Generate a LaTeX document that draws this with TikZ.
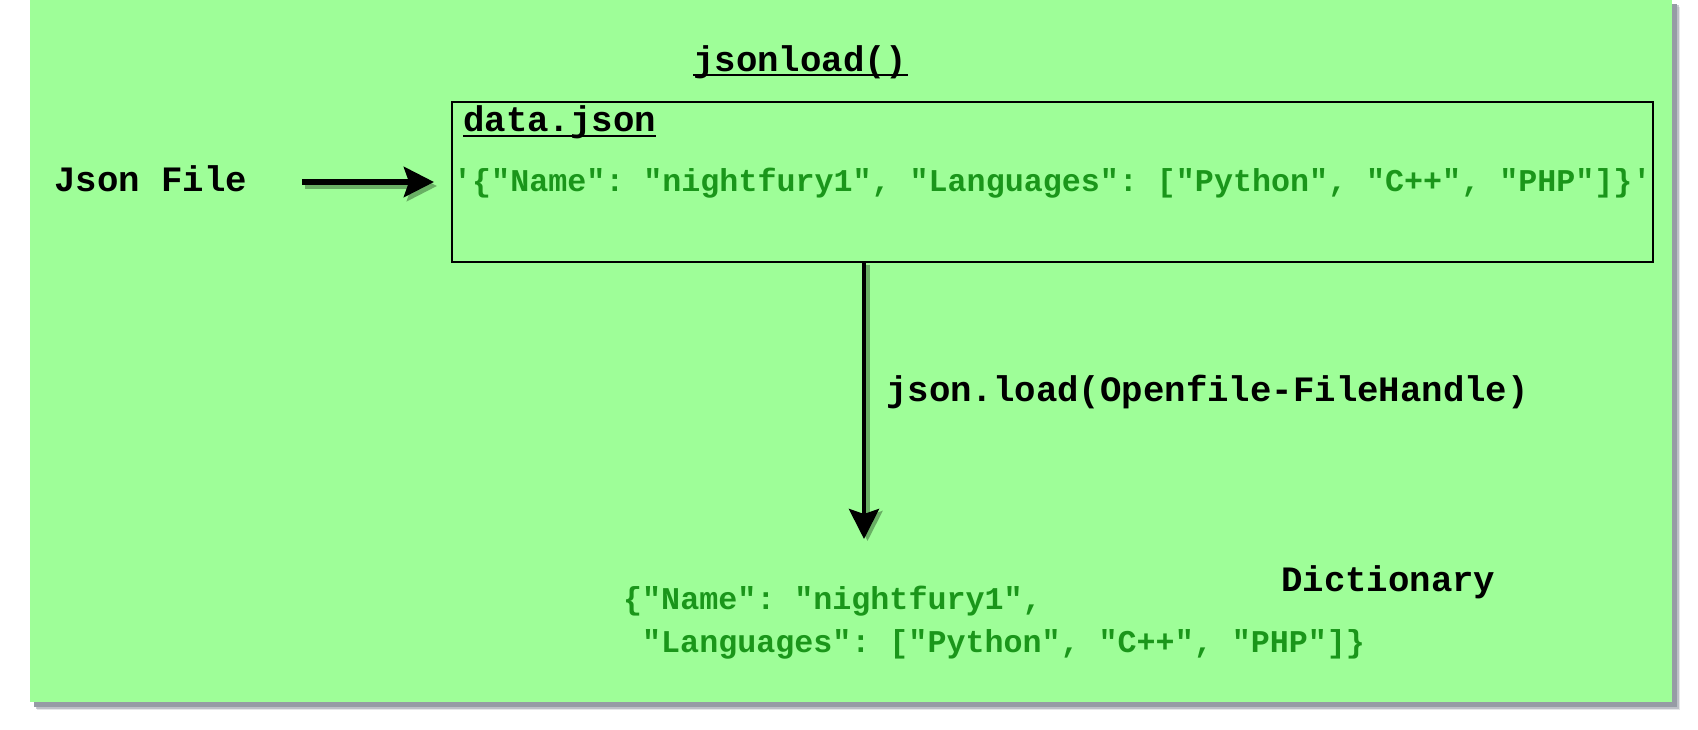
\documentclass[tikz,border=0pt]{standalone}
\usepackage{fontspec}
\setmonofont{Liberation Mono}
\usetikzlibrary{arrows.meta}
\definecolor{bggreen}{RGB}{158,254,152}
\definecolor{txtgreen}{RGB}{26,150,26}
\definecolor{shadowgray}{RGB}{150,155,165}
\definecolor{arrshadow}{RGB}{105,175,100}
\tikzset{
  lbl/.style={anchor=base west, inner sep=0pt, font=\ttfamily\bfseries\fontsize{35.7}{40}\selectfont},
  code/.style={anchor=base west, inner sep=0pt, text=txtgreen, font=\ttfamily\bfseries\fontsize{31.7}{38}\selectfont},
  ul/.style={line width=2pt},
  harrow/.style={line width=6pt, -{Stealth[length=30pt,width=30pt,inset=5pt]}},
  varrow/.style={line width=4.5pt, -{Stealth[length=30pt,width=30pt,inset=5pt]}},
  boxstyle/.style={draw, line width=2pt, inner sep=0pt, minimum width=1201pt, minimum height=160pt, anchor=north west}
}
\begin{document}
\begin{tikzpicture}[x=1pt,y=-1pt]
\useasboundingbox (0,0) rectangle (1698,730);
% background with shadow
\fill[shadowgray, opacity=0.25] (37,7) rectangle (1680,710);
\fill[shadowgray, opacity=0.5] (35.5,5.5) rectangle (1678.5,708.5);
\fill[shadowgray] (34,4) rectangle (1677,707);
\fill[bggreen] (30,0) rectangle (1672,702);
% box
\node[boxstyle] (box) at (451,101) {};
% texts
\node[lbl] (jl) at (693,72) {jsonload()};
\draw[ul] ([yshift=-3pt]jl.base west) -- ([yshift=-3pt]jl.base east);
\node[lbl] (dj) at (463,132) {data.json};
\draw[ul] ([yshift=-4pt]dj.base west) -- ([yshift=-4pt]dj.base east);
\node[lbl] (jf) at (54,192) {Json File};
\node[code] (bt) at (453,192) {'\{"Name": "nightfury1", "Languages": ["Python", "C++", "PHP"]\}'};
\node[lbl] (jload) at (886,401) {json.load(Openfile-FileHandle)};
\node[lbl] (dict) at (1281,591) {Dictionary};
\node[code] (d1) at (623,609) {\{"Name": "nightfury1",};
\node[code] (d2) at (642,652) {"Languages": ["Python", "C++", "PHP"]\}};
% arrows
\coordinate (tip) at (864,539);
\draw[harrow, arrshadow, transform canvas={xshift=3pt,yshift=-4pt}, shorten <=55pt, shorten >=17pt] (jf.east |- box.west) -- (box.west);
\draw[harrow, shorten <=55pt, shorten >=17pt] (jf.east |- box.west) -- (box.west);
\draw[varrow, arrshadow, transform canvas={xshift=3.5pt,yshift=-2pt}] (tip |- box.south) -- (tip);
\draw[varrow] (tip |- box.south) -- (tip);
\end{tikzpicture}
\end{document}
